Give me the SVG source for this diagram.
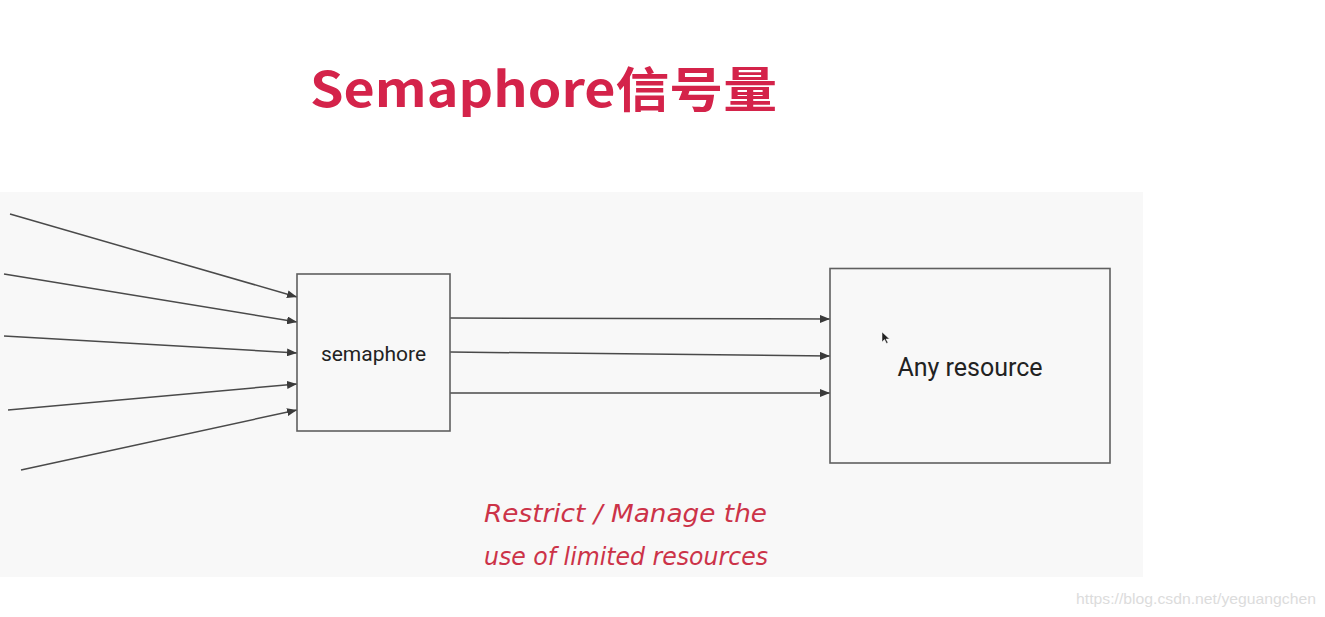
<svg xmlns="http://www.w3.org/2000/svg" width="1325" height="617" viewBox="0 0 1325 617">
<style>
.box{fill:none;stroke:#5f5f5f;stroke-width:1.6}
.conn line{stroke:#4a4a4a;stroke-width:1.5;marker-end:url(#ah)}
.lbl{font-family:Roboto,"Liberation Sans",sans-serif;fill:#222}
.hand{font-family:"DejaVu Sans","Liberation Sans",sans-serif;font-style:italic;fill:#cc3348;font-size:25px}
</style>
<defs>
<marker id="ah" viewBox="0 0 10 8" refX="10" refY="4" markerWidth="10" markerHeight="8" markerUnits="userSpaceOnUse" orient="auto">
<path d="M0,0 L10,4 L0,8 Z" fill="#3a3a3a"/>
</marker>
</defs>
<rect width="1325" height="617" fill="#ffffff"/>
<rect x="0" y="192" width="1143" height="385" fill="#f8f8f8"/>
<text id="title" x="310" y="107" font-family="'Noto Sans CJK SC','Noto Sans',sans-serif" font-weight="bold" font-size="48" fill="#d4234a" textLength="467" lengthAdjust="spacingAndGlyphs">Semaphore信号量</text>
<g class="conn">
<line x1="10" y1="214" x2="297" y2="297"/>
<line x1="4" y1="274" x2="297" y2="322"/>
<line x1="4" y1="336" x2="297" y2="353"/>
<line x1="8" y1="410" x2="297" y2="384"/>
<line x1="21" y1="470" x2="297" y2="410"/>
<line x1="450" y1="318" x2="830" y2="319"/>
<line x1="450" y1="352" x2="830" y2="356"/>
<line x1="450" y1="393" x2="830" y2="393"/>
</g>
<g id="semaphore">
<rect class="box" x="297" y="274" width="153" height="157"/>
<text class="lbl" x="373.5" y="361" font-size="21" text-anchor="middle">semaphore</text>
</g>
<g id="resource">
<rect class="box" x="830" y="268.5" width="280" height="194.5"/>
<text class="lbl" x="970" y="376" font-size="25" text-anchor="middle">Any resource</text>
</g>
<path d="M882,332 L882,342 L884.5,339.5 L886.5,343.5 L888,342.8 L886,339 L889.5,339 Z" fill="#222" stroke="#fff" stroke-width="0.5"/>
<g id="note">
<text class="hand" x="484" y="522" textLength="283" lengthAdjust="spacingAndGlyphs">Restrict / Manage the</text>
<text class="hand" x="484" y="565" textLength="284" lengthAdjust="spacingAndGlyphs">use of limited resources</text>
</g>
<text x="1076" y="604" font-family="'Liberation Sans',Arial,sans-serif" font-size="15" fill="#dcdcdc" textLength="240" lengthAdjust="spacingAndGlyphs">https://blog.csdn.net/yeguangchen</text>
</svg>
